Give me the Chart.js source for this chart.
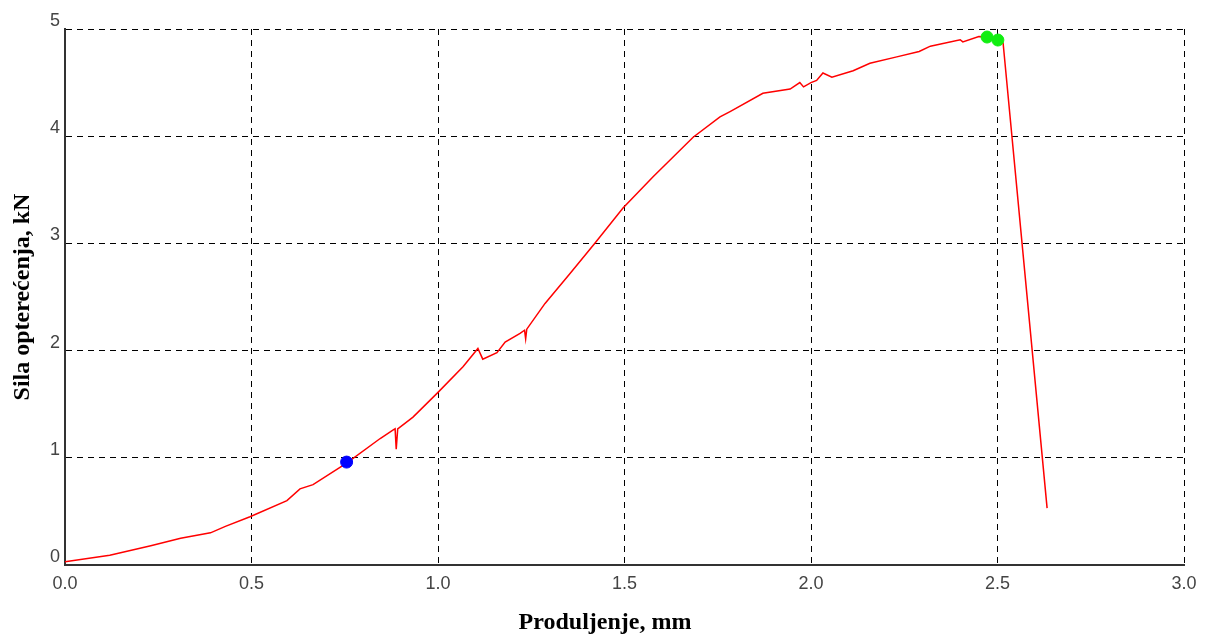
<!DOCTYPE html>
<html>
<head>
<meta charset="utf-8">
<script src="https://cdn.jsdelivr.net/npm/chart.js@4/dist/chart.umd.min.js"></script>
<style>
  html, body { margin: 0; padding: 0; background: #fff; }
  #wrap { width: 1210px; height: 639px; position: relative; }
</style>
</head>
<body>
<div id="wrap"><canvas id="forceChart"></canvas></div>
<script>
// Elongation (mm) and force (kN)
const elongation = [0.0, 0.12, 0.23, 0.31, 0.39, 0.43, 0.496, 0.595, 0.63, 0.665, 0.755, 0.845, 0.88, 0.885, 0.888,
  0.892, 0.933, 1.0, 1.067, 1.107, 1.12, 1.158, 1.18, 1.22, 1.232, 1.235, 1.238, 1.287, 1.354, 1.42, 1.496,
  1.576, 1.684, 1.756, 1.783, 1.871, 1.944, 1.97, 1.98, 2.0, 2.015, 2.032, 2.056, 2.113, 2.158, 2.23, 2.29,
  2.32, 2.40, 2.407, 2.45, 2.472, 2.501, 2.515, 2.633];
const force = [0.03, 0.09, 0.18, 0.25, 0.30, 0.36, 0.45, 0.60, 0.71, 0.75, 0.95, 1.18, 1.26, 1.27, 1.08,
  1.27, 1.38, 1.61, 1.85, 2.02, 1.92, 1.98, 2.08, 2.16, 2.19, 2.11, 2.2, 2.44, 2.72, 3.0, 3.33,
  3.62, 3.99, 4.18, 4.23, 4.40, 4.44, 4.5, 4.46, 4.5, 4.52, 4.59, 4.55, 4.61, 4.68, 4.74, 4.79,
  4.84, 4.90, 4.88, 4.93, 4.925, 4.897, 4.87, 0.53];

// marked points
const bluePoint = [{ x: 0.755, y: 0.96 }];
const greenPoints = [{ x: 2.472, y: 4.925 }, { x: 2.501, y: 4.897 }];

const xTicks = [0, 0.5, 1.0, 1.5, 2.0, 2.5, 3.0];
const yTicks = [0, 1, 2, 3, 4, 5];

const curve = elongation.map((x, i) => ({ x: x, y: force[i] }));

const ctx = document.getElementById('forceChart').getContext('2d');
new Chart(ctx, {
  type: 'scatter',
  data: {
    datasets: [
      {
        data: bluePoint,
        backgroundColor: '#0000ff',
        borderColor: '#0000ff',
        pointRadius: 6,
        order: 0
      },
      {
        data: greenPoints,
        backgroundColor: '#11ee11',
        borderColor: '#11ee11',
        pointRadius: 6,
        order: 0
      },
      {
        data: curve,
        showLine: true,
        borderColor: '#ff0000',
        borderWidth: 1.5,
        pointRadius: 0,
        tension: 0,
        order: 1
      }
    ]
  },
  options: {
    responsive: true,
    maintainAspectRatio: false,
    animation: false,
    layout: { padding: { top: 29, right: 0, left: 0, bottom: 0 } },
    plugins: {
      legend: { display: false },
      tooltip: { enabled: false },
      // x axis title sits centred under the whole picture
      title: {
        display: true,
        position: 'bottom',
        text: 'Produljenje, mm',
        color: '#000',
        font: { family: 'Liberation Serif', size: 24, weight: 'bold', lineHeight: 1.2 },
        padding: { top: 0, bottom: 2 }
      }
    },
    scales: {
      x: {
        type: 'linear',
        min: 0,
        max: 3,
        afterBuildTicks: scale => { scale.ticks = xTicks.map(v => ({ value: v })); },
        afterFit: scale => { scale.height = 43.2; },
        ticks: {
          callback: v => v.toFixed(1),
          color: '#444',
          font: { family: 'Liberation Sans', size: 18 },
          padding: 8,
          maxRotation: 0
        },
        grid: { color: '#000', lineWidth: 1, drawTicks: false },
        border: { display: true, color: '#333', width: 2, dash: [6, 5] }
      },
      y: {
        type: 'linear',
        min: 0,
        max: 5,
        afterBuildTicks: scale => { scale.ticks = yTicks.map(v => ({ value: v })); },
        afterFit: scale => { scale.width = 65; },
        ticks: {
          color: '#444',
          font: { family: 'Liberation Sans', size: 18 },
          padding: 5,
          labelOffset: -8
        },
        grid: { color: '#000', lineWidth: 1, drawTicks: false },
        border: { display: true, color: '#333', width: 2, dash: [6, 5] },
        title: {
          display: true,
          text: 'Sila opterećenja, kN',
          color: '#000',
          font: { family: 'Liberation Serif', size: 24, weight: 'bold' },
          padding: { top: 8, bottom: 0 }
        }
      },
      // empty strip on the right so the plot ends where the original does
      pad: {
        type: 'linear',
        position: 'right',
        display: true,
        afterFit: scale => { scale.width = 26; },
        ticks: { display: false },
        grid: { display: false, drawTicks: false },
        border: { display: false }
      }
    }
  }
});
</script>
</body>
</html>
